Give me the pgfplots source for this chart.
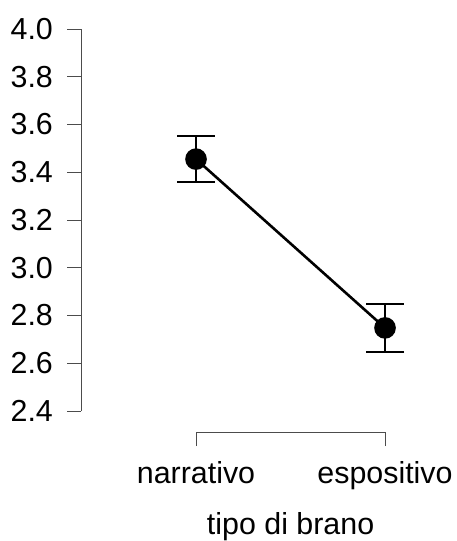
\documentclass[border=0pt]{standalone}
\usepackage{pgfplots}
\pgfplotsset{compat=1.18}
\usepackage{fontspec}
\setmainfont{Liberation Sans}
\begin{document}
\begin{tikzpicture}
\begin{axis}[
  scale only axis,
  width=375bp, height=432bp,
  xmin=-0.608, xmax=1.376,
  ymin=2.312, ymax=4.1215,
  clip=false,
  axis line style={draw=none},
  xtick={0,1}, xticklabels={narrativo,espositivo},
  ytick={2.4,2.6,...,4.01},
  yticklabel style={/pgf/number format/fixed,/pgf/number format/fixed zerofill,/pgf/number format/precision=1},
  xtick pos=bottom, ytick pos=left,
  tick align=outside,
  major tick length=14bp,
  tick style={gray!60!black, line width=0.9bp},
  /pgf/number format/assume math mode=true,
  tick label style={font=\fontsize{30.5}{36}\selectfont},
  yticklabel style={anchor=east, inner sep=0pt, xshift=-14bp},
  xticklabel style={anchor=base, inner sep=0pt, yshift=-37bp},
  xlabel={tipo di brano},
  label style={font=\fontsize{30.5}{36}\selectfont},
  xlabel style={at={(axis description cs:0.5587,0)}, anchor=base, inner sep=0pt, yshift=-102bp},
]
\draw[gray!60!black, line width=0.9bp] (axis cs:-0.608,2.4) -- (axis cs:-0.608,4.0);
\draw[gray!60!black, line width=0.9bp] (axis cs:0,2.312) -- (axis cs:1,2.312);
\addplot[black, line width=2.6bp, mark=*, mark size=9.5bp,
  error bars/.cd, y dir=both, y explicit,
  error mark options={black, line width=2bp, mark size=19bp, rotate=90},
  error bar style={line width=2bp}]
  coordinates {(0,3.455) +- (0,0.095) (1,2.748) +- (0,0.102)};
\coordinate (bl) at (axis cs:-1.037,1.8555);
\coordinate (tr) at (axis cs:1.376,4.1215);
\end{axis}
\pgfresetboundingbox
\path (bl) rectangle (tr);
\end{tikzpicture}
\end{document}
